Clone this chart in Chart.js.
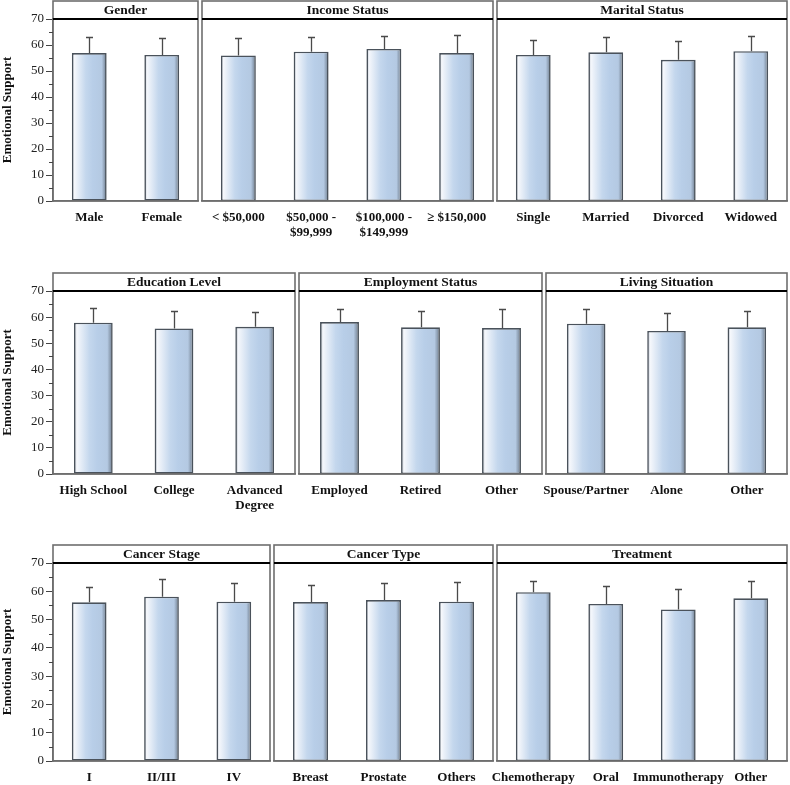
<!DOCTYPE html>
<html>
<head>
<meta charset="utf-8">
<script src="https://cdn.jsdelivr.net/npm/chart.js@4.4.1/dist/chart.umd.min.js"></script>
<style>
  html, body { margin: 0; padding: 0; background: #fff; }
  #wrap { position: relative; width: 790px; height: 785px; overflow: hidden; }
  #wrap canvas { position: absolute; }
</style>
</head>
<body>
<div id="wrap"></div>
<script>
// data: bar = mean, sd = length of the upper whisker
const genderLabels = ['Male', 'Female'];
const genderMeans = [56.9, 56.2];
const genderSd = [6.0, 6.5];

const incomeLabels = ['< $50,000', ['$50,000 -', '$99,999'], ['$100,000 -', '$149,999'], '\u2265 $150,000'];
const incomeMeans = [56.0, 57.4, 58.5, 56.9];
const incomeSd = [6.6, 5.7, 5.1, 6.9];

const maritalLabels = ['Single', 'Married', 'Divorced', 'Widowed'];
const maritalMeans = [56.2, 57.2, 54.3, 57.6];
const maritalSd = [5.7, 5.9, 7.2, 5.9];

const educationLabels = ['High School', 'College', ['Advanced', 'Degree']];
const educationMeans = [57.9, 55.7, 56.3];
const educationSd = [5.7, 6.8, 5.7];

const employmentLabels = ['Employed', 'Retired', 'Other'];
const employmentMeans = [58.1, 56.1, 55.8];
const employmentSd = [4.9, 6.4, 7.3];

const livingLabels = ['Spouse/Partner', 'Alone', 'Other'];
const livingMeans = [57.5, 54.7, 56.1];
const livingSd = [5.5, 7.0, 6.4];

const stageLabels = ['I', 'II/III', 'IV'];
const stageMeans = [56.1, 58.1, 56.3];
const stageSd = [5.4, 6.1, 6.6];

const typeLabels = ['Breast', 'Prostate', 'Others'];
const typeMeans = [56.2, 56.9, 56.3];
const typeSd = [5.9, 5.9, 7.0];

const treatmentLabels = ['Chemotherapy', 'Oral', 'Immunotherapy', 'Other'];
const treatmentMeans = [59.7, 55.5, 53.6, 57.5];
const treatmentSd = [4.1, 6.2, 7.3, 6.2];

const yTicks = [0, 10, 20, 30, 40, 50, 60, 70];

const SERIF = '"Liberation Serif", "DejaVu Serif", serif';
const HEADER_H = 18;
const BLEED = 20; // extra canvas room so long x labels are not clipped

// header strip, panel frame, whiskers, minor ticks
const panelPlugin = {
  id: 'panel',
  afterDatasetsDraw(chart, args, opts) {
    const c = chart.ctx;
    const a = chart.chartArea;
    const y = chart.scales.y;
    const x = chart.scales.x;
    c.save();

    // whiskers
    c.strokeStyle = '#4a4a4a';
    c.lineWidth = 1.3;
    const means = chart.data.datasets[0].data;
    opts.sd.forEach((s, i) => {
      const px = Math.round(x.getPixelForValue(i)) + 0.5;
      const y0 = y.getPixelForValue(means[i]);
      const y1 = Math.round(y.getPixelForValue(means[i] + s)) + 0.5;
      c.beginPath();
      c.moveTo(px, y0);
      c.lineTo(px, y1);
      c.moveTo(px - 3.5, y1);
      c.lineTo(px + 3.5, y1);
      c.stroke();
    });

    // frame
    c.strokeStyle = '#6e6e6e';
    c.lineWidth = 1.6;
    c.strokeRect(a.left, a.top - HEADER_H, a.right - a.left, a.bottom - a.top + HEADER_H);
    // header bottom line
    c.strokeStyle = '#000';
    c.lineWidth = 2;
    c.beginPath();
    c.moveTo(a.left, a.top);
    c.lineTo(a.right, a.top);
    c.stroke();
    // header title
    c.fillStyle = '#111';
    c.font = 'bold 13.5px ' + SERIF;
    c.textAlign = 'center';
    c.textBaseline = 'middle';
    c.fillText(opts.title, (a.left + a.right) / 2, a.top - HEADER_H / 2 + 0.5);

    // minor ticks on the first panel of a row
    if (y.options.display) {
      c.strokeStyle = '#444';
      c.lineWidth = 1;
      for (let v = 5; v < 70; v += 10) {
        const py = Math.round(y.getPixelForValue(v)) + 0.5;
        c.beginPath();
        c.moveTo(a.left - 4, py);
        c.lineTo(a.left, py);
        c.stroke();
      }
    }
    c.restore();
  }
};

function barFill(ctx) {
  const chart = ctx.chart;
  const xs = chart.scales.x;
  if (!chart.chartArea || !xs || ctx.dataIndex === undefined) return '#b8cee8';
  const cx = xs.getPixelForValue(ctx.dataIndex);
  const w = (xs.width / chart.data.labels.length) * 0.48;
  const g = chart.ctx.createLinearGradient(cx - w / 2, 0, cx + w / 2, 0);
  g.addColorStop(0, '#7f8ea0');
  g.addColorStop(0.07, '#f6f8fc');
  g.addColorStop(0.4, '#c4d7ed');
  g.addColorStop(0.6, '#b8cee8');
  g.addColorStop(0.86, '#b4c9e2');
  g.addColorStop(0.95, '#8595a8');
  g.addColorStop(1, '#5d6773');
  return g;
}

function makePanel(opt) {
  const cv = document.createElement('canvas');
  const first = !!opt.first;
  const axisW = 53;
  const left = first ? 0 : opt.x0 - BLEED;
  const width = opt.x1 + BLEED - left;
  cv.style.left = left + 'px';
  cv.style.top = opt.top + 'px';
  cv.style.width = width + 'px';
  cv.style.height = opt.h + 'px';
  cv.width = width;
  cv.height = opt.h;
  document.getElementById('wrap').appendChild(cv);

  new Chart(cv.getContext('2d'), {
    type: 'bar',
    data: {
      labels: opt.labels,
      datasets: [{
        data: opt.means,
        backgroundColor: barFill,
        borderColor: '#4a525b',
        borderWidth: 1.6,
        borderSkipped: false,
        categoryPercentage: 1,
        barPercentage: 0.48
      }]
    },
    options: {
      responsive: false,
      animation: false,
      events: [],
      layout: { padding: { top: opt.padTop, left: first ? 0 : BLEED, right: BLEED, bottom: 0 } },
      plugins: {
        legend: { display: false },
        tooltip: { enabled: false },
        panel: { title: opt.title, sd: opt.sd }
      },
      scales: {
        x: {
          afterFit: (s) => {
            s.height = opt.xh;
            s.paddingLeft = 0;
            s.paddingRight = 0;
          },
          grid: { display: false, drawTicks: false },
          border: { display: true, color: '#6e6e6e', width: 1.6 },
          ticks: {
            padding: 9,
            maxRotation: 0,
            autoSkip: false,
            color: '#111',
            font: { family: SERIF, size: 13, weight: 'bold', lineHeight: 1.15 }
          }
        },
        y: {
          display: first,
          min: 0,
          max: 70,
          afterFit: (s) => { s.width = first ? axisW : 0; },
          afterBuildTicks: (s) => { s.ticks = yTicks.map(v => ({ value: v })); },
          grid: { drawOnChartArea: false, drawTicks: true, tickLength: 7, color: '#444' },
          border: { display: true, color: '#6e6e6e', width: 1.6 },
          ticks: {
            padding: 2,
            color: '#222',
            font: { family: SERIF, size: 13 }
          },
          title: {
            display: true,
            text: 'Emotional Support',
            color: '#111',
            padding: { top: 0, bottom: 2 },
            font: { family: SERIF, size: 13, weight: 'bold' }
          }
        }
      }
    },
    plugins: [panelPlugin]
  });
}

// row 1
makePanel({ first: true, x0: 53, x1: 198, top: 0, h: 245, padTop: 19, xh: 44, title: 'Gender', labels: genderLabels, means: genderMeans, sd: genderSd });
makePanel({ x0: 202, x1: 493, top: 0, h: 245, padTop: 19, xh: 44, title: 'Income Status', labels: incomeLabels, means: incomeMeans, sd: incomeSd });
makePanel({ x0: 497, x1: 787, top: 0, h: 245, padTop: 19, xh: 44, title: 'Marital Status', labels: maritalLabels, means: maritalMeans, sd: maritalSd });

// row 2
makePanel({ first: true, x0: 53, x1: 295, top: 254, h: 264, padTop: 37, xh: 44, title: 'Education Level', labels: educationLabels, means: educationMeans, sd: educationSd });
makePanel({ x0: 299, x1: 542, top: 254, h: 264, padTop: 37, xh: 44, title: 'Employment Status', labels: employmentLabels, means: employmentMeans, sd: employmentSd });
makePanel({ x0: 546, x1: 787, top: 254, h: 264, padTop: 37, xh: 44, title: 'Living Situation', labels: livingLabels, means: livingMeans, sd: livingSd });

// row 3
makePanel({ first: true, x0: 53, x1: 270, top: 526, h: 259, padTop: 37, xh: 24, title: 'Cancer Stage', labels: stageLabels, means: stageMeans, sd: stageSd });
makePanel({ x0: 274, x1: 493, top: 526, h: 259, padTop: 37, xh: 24, title: 'Cancer Type', labels: typeLabels, means: typeMeans, sd: typeSd });
makePanel({ x0: 497, x1: 787, top: 526, h: 259, padTop: 37, xh: 24, title: 'Treatment', labels: treatmentLabels, means: treatmentMeans, sd: treatmentSd });
</script>
</body>
</html>
